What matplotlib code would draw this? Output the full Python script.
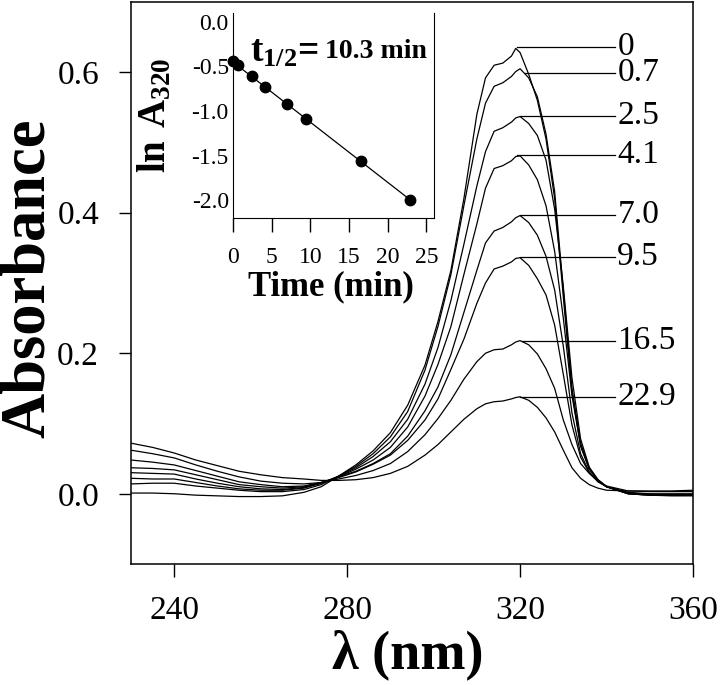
import matplotlib
matplotlib.use("Agg")
import matplotlib.pyplot as plt
from matplotlib.ticker import FormatStrFormatter

plt.rcParams['font.family'] = ['Liberation Serif', 'DejaVu Serif']
plt.rcParams['axes.unicode_minus'] = False
plt.rcParams['mathtext.fontset'] = 'custom'
plt.rcParams['mathtext.rm'] = 'Liberation Serif'
plt.rcParams['mathtext.bf'] = 'Liberation Serif:bold'

# wavelength grid (nm)
wl = [230, 235, 240, 245, 250, 255, 260, 265, 270, 274, 278, 282, 286, 290,
      294, 298, 301, 304, 307, 310, 312, 314, 316, 318, 319, 320, 322, 324,
      326, 328, 330, 332, 334, 336, 338, 340, 345, 350, 355, 360]

# spectra, one per time point (min)
a_0 = [0.001, 0.001, 0.000, -0.002, -0.003, -0.004, -0.004, -0.003, 0.002, 0.010,
       0.025, 0.041, 0.061, 0.087, 0.126, 0.183, 0.245, 0.318, 0.420, 0.540,
       0.592, 0.610, 0.613, 0.623, 0.634, 0.628, 0.597, 0.560, 0.505, 0.420,
       0.280, 0.145, 0.068, 0.036, 0.020, 0.010, 0.000, -0.002, -0.003, -0.003]
a_07 = [0.014, 0.015, 0.015, 0.011, 0.008, 0.005, 0.003, 0.003, 0.006, 0.013,
        0.025, 0.039, 0.057, 0.081, 0.117, 0.176, 0.238, 0.312, 0.410, 0.505,
        0.556, 0.580, 0.585, 0.594, 0.601, 0.605, 0.592, 0.565, 0.512, 0.430,
        0.290, 0.150, 0.072, 0.036, 0.020, 0.010, 0.000, -0.002, -0.002, -0.002]
a_25 = [0.022, 0.021, 0.021, 0.016, 0.011, 0.007, 0.005, 0.005, 0.008, 0.015,
        0.025, 0.037, 0.053, 0.074, 0.106, 0.156, 0.208, 0.275, 0.355, 0.438,
        0.487, 0.516, 0.521, 0.529, 0.535, 0.537, 0.527, 0.510, 0.475, 0.405,
        0.295, 0.165, 0.078, 0.038, 0.020, 0.010, 0.000, -0.002, -0.002, -0.002]
a_41 = [0.030, 0.029, 0.028, 0.021, 0.015, 0.010, 0.007, 0.006, 0.009, 0.015,
        0.024, 0.035, 0.048, 0.066, 0.095, 0.139, 0.184, 0.238, 0.312, 0.384,
        0.435, 0.463, 0.467, 0.474, 0.480, 0.481, 0.468, 0.447, 0.410, 0.345,
        0.250, 0.140, 0.068, 0.035, 0.019, 0.010, 0.001, -0.001, -0.002, -0.002]
a_70 = [0.037, 0.036, 0.034, 0.027, 0.020, 0.013, 0.010, 0.008, 0.010, 0.016,
        0.024, 0.032, 0.043, 0.057, 0.082, 0.118, 0.152, 0.198, 0.258, 0.318,
        0.357, 0.374, 0.379, 0.387, 0.393, 0.396, 0.386, 0.368, 0.338, 0.290,
        0.210, 0.115, 0.057, 0.031, 0.018, 0.010, 0.001, -0.001, -0.001, -0.001]
a_95 = [0.048, 0.045, 0.041, 0.033, 0.025, 0.017, 0.013, 0.010, 0.011, 0.016,
        0.023, 0.031, 0.042, 0.055, 0.076, 0.105, 0.135, 0.177, 0.220, 0.271,
        0.300, 0.320, 0.324, 0.330, 0.335, 0.336, 0.325, 0.306, 0.283, 0.240,
        0.170, 0.098, 0.052, 0.030, 0.017, 0.010, 0.002, 0.000, 0.000, 0.000]
a_165 = [0.062, 0.057, 0.051, 0.041, 0.032, 0.024, 0.018, 0.015, 0.014, 0.016,
         0.021, 0.026, 0.033, 0.043, 0.060, 0.084, 0.107, 0.133, 0.163, 0.188,
         0.200, 0.205, 0.206, 0.212, 0.216, 0.218, 0.212, 0.199, 0.178, 0.150,
         0.105, 0.070, 0.043, 0.029, 0.018, 0.011, 0.004, 0.003, 0.003, 0.003]
a_229 = [0.072, 0.066, 0.058, 0.048, 0.040, 0.032, 0.027, 0.023, 0.021, 0.019,
         0.019, 0.020, 0.023, 0.029, 0.039, 0.055, 0.070, 0.088, 0.106, 0.121,
         0.128, 0.131, 0.132, 0.135, 0.137, 0.138, 0.133, 0.123, 0.108, 0.088,
         0.062, 0.037, 0.022, 0.013, 0.008, 0.005, 0.004, 0.004, 0.004, 0.005]
spectra = [a_0, a_07, a_25, a_41, a_70, a_95, a_165, a_229]

# curve labels and the level of their leader lines
labels = ["0", "0.7", "2.5", "4.1", "7.0", "9.5", "16.5", "22.9"]
label_start = [319.2, 321.2, 320.0, 319.2, 320.0, 320.0, 320.4, 320.0]
label_level = [0.636, 0.599, 0.538, 0.482, 0.397, 0.337, 0.218, 0.138]

# inset: ln A320 vs time
t_min = [0, 0.7, 2.5, 4.1, 7.0, 9.5, 16.5, 22.9]
ln_a = [-0.44, -0.48, -0.61, -0.73, -0.92, -1.09, -1.56, -2.00]
fit_t = [0, 22.9]
fit_ln = [-0.45, -1.995]

W, H = 720, 685
fig = plt.figure(figsize=(W / 100, H / 100), dpi=100)
ax = fig.add_axes([131 / W, 1 - 564 / H, 562 / W, 562 / H])

for a in spectra:
    ax.plot(wl, a, color='k', lw=0.9)

for lab, x0, y0 in zip(labels, label_start, label_level):
    ax.plot([x0, 342.0], [y0, y0], color='k', lw=0.9)
    ax.text(342.5, y0, lab, fontsize=24, ha='left', va='center')

ax.set_xlim(230, 360)
ax.set_ylim(-0.1, 0.7)
ax.set_xticks([240, 280, 320, 360])
ax.set_yticks([0.0, 0.2, 0.4, 0.6])
ax.yaxis.set_major_formatter(FormatStrFormatter('%.1f'))
ax.tick_params(direction='out', length=9, width=1, labelsize=24, top=False, right=False)
ax.tick_params(axis='x', pad=14)
ax.tick_params(axis='y', pad=14)
for s in ax.spines.values():
    s.set_linewidth(1.1)

ax.set_xlabel('λ (nm)', fontsize=39, fontweight='bold', va='center')
ax.xaxis.set_label_coords(0.493, -0.162)
fig.text(29 / W, 1 - 278 / H, 'Absorbance', fontsize=45, fontweight='bold',
         rotation=90, ha='center', va='center')

# inset
axin = fig.add_axes([233 / W, 1 - 218 / H, 201 / W, 205 / H])
axin.plot(fit_t, fit_ln, color='k', lw=0.9)
axin.plot(t_min, ln_a, 'o', color='k', ms=7.5, clip_on=False, zorder=3)
axin.set_xlim(0, 26)
axin.set_ylim(-2.2, 0.1)
axin.set_xticks([0, 5, 10, 15, 20, 25])
axin.set_yticks([0.0, -0.5, -1.0, -1.5, -2.0])
axin.yaxis.set_major_formatter(FormatStrFormatter('%.1f'))
axin.tick_params(axis='x', direction='out', length=10, width=1, pad=11, labelsize=17)
axin.tick_params(axis='y', length=0, pad=3, labelsize=17)
axin.spines['top'].set_visible(False)
axin.set_xlabel('Time (min)', fontsize=25, fontweight='bold', va='center')
axin.xaxis.set_label_coords(0.488, -0.337)
axin.set_ylabel(r'$\mathbf{ln\ A_{320}}$', fontsize=28, va='center')
axin.yaxis.set_label_coords(-0.385, 0.50)
axin.text(0.085, 0.761, r'$\mathbf{t_{1/2}}$=', fontsize=27, fontweight='bold',
          transform=axin.transAxes, va='baseline', ha='left')
axin.text(0.458, 0.78, '10.3 min', fontsize=20, fontweight='bold',
          transform=axin.transAxes, va='baseline', ha='left')

fig.savefig('out.png', dpi=100)
